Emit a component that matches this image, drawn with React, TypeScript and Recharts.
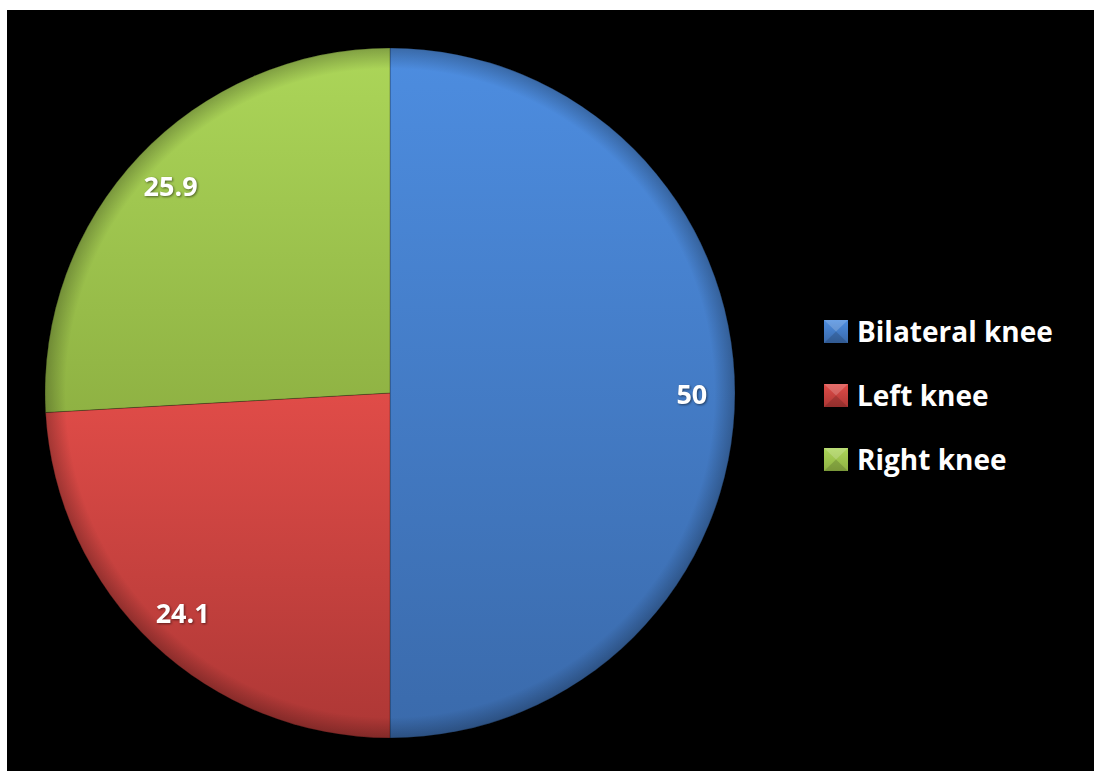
import { Cell, Legend, Pie, PieChart } from 'recharts';

const categories = ['Bilateral knee', 'Left knee', 'Right knee'];
const shares = [50, 24.1, 25.9];
const sliceColors = [
  { top: '#4d8de0', bottom: '#3a6aab', id: 'gBlue' },
  { top: '#e04c48', bottom: '#ad3735', id: 'gRed' },
  { top: '#acd659', bottom: '#8fb243', id: 'gGreen' },
];

const data = categories.map((name, i) => ({ name, value: shares[i] }));
const RAD = Math.PI / 180;

function SliceLabel(props: any) {
  const { cx, cy, midAngle, outerRadius, value } = props;
  const r = outerRadius * 0.875;
  const x = cx + r * Math.cos(-midAngle * RAD);
  const y = cy + r * Math.sin(-midAngle * RAD);
  return (
    <text
      x={x}
      y={y}
      fill="#ffffff"
      textAnchor="middle"
      dominantBaseline="central"
      fontFamily="'Open Sans', sans-serif"
      fontWeight={700}
      fontSize={27}
      style={{ filter: 'drop-shadow(1px 1px 1px rgba(0,0,0,0.5))' }}
    >
      {value}
    </text>
  );
}

function LegendBox() {
  return (
    <div style={{ fontFamily: "'Open Sans', sans-serif", fontWeight: 700, fontSize: 28, color: '#fff' }}>
      {categories.map((name, i) => (
        <div key={name} style={{ display: 'flex', alignItems: 'center', height: 64 }}>
          <svg width={24} height={23} style={{ marginRight: 9 }}>
            <rect x={0} y={0} width={24} height={23} fill={`url(#${sliceColors[i].id})`} />
            <path d="M0 0 L12 11.5 L24 0 Z" fill="rgba(255,255,255,0.18)" />
            <path d="M0 23 L12 11.5 L24 23 Z" fill="rgba(0,0,0,0.15)" />
          </svg>
          <span style={{ lineHeight: 1 }}>{name}</span>
        </div>
      ))}
    </div>
  );
}

export default function App() {
  return (
    <div style={{ position: 'absolute', left: 7, top: 10, width: 1087, height: 761, background: '#000' }}>
      <PieChart width={1087} height={761} margin={{ top: 0, right: 0, bottom: 0, left: 0 }}>
        <defs>
          {sliceColors.map((c) => (
            <linearGradient key={c.id} id={c.id} x1="0" y1="0" x2="0" y2="1">
              <stop offset="0%" stopColor={c.top} />
              <stop offset="100%" stopColor={c.bottom} />
            </linearGradient>
          ))}
          <radialGradient id="rim" cx="50%" cy="50%" r="50%">
            <stop offset="94%" stopColor="#000" stopOpacity={0} />
            <stop offset="100%" stopColor="#000" stopOpacity={0.25} />
          </radialGradient>
        </defs>
        <Pie
          data={data}
          dataKey="value"
          nameKey="name"
          cx={383}
          cy={383}
          outerRadius={345}
          startAngle={90}
          endAngle={-270}
          stroke="rgba(0,0,0,0.25)"
          strokeWidth={1}
          label={SliceLabel}
          labelLine={false}
          isAnimationActive={false}
        >
          {data.map((d, i) => (
            <Cell key={d.name} fill={`url(#${sliceColors[i].id})`} />
          ))}
        </Pie>
        <Pie
          data={[{ name: 'rim', value: 1 }]}
          dataKey="value"
          cx={383}
          cy={383}
          outerRadius={345}
          startAngle={90}
          endAngle={-270}
          fill="url(#rim)"
          stroke="none"
          legendType="none"
          isAnimationActive={false}
        />
        <Legend
          content={<LegendBox />}
          wrapperStyle={{ position: 'absolute', left: 817, top: 289, width: 270 }}
        />
      </PieChart>
    </div>
  );
}
